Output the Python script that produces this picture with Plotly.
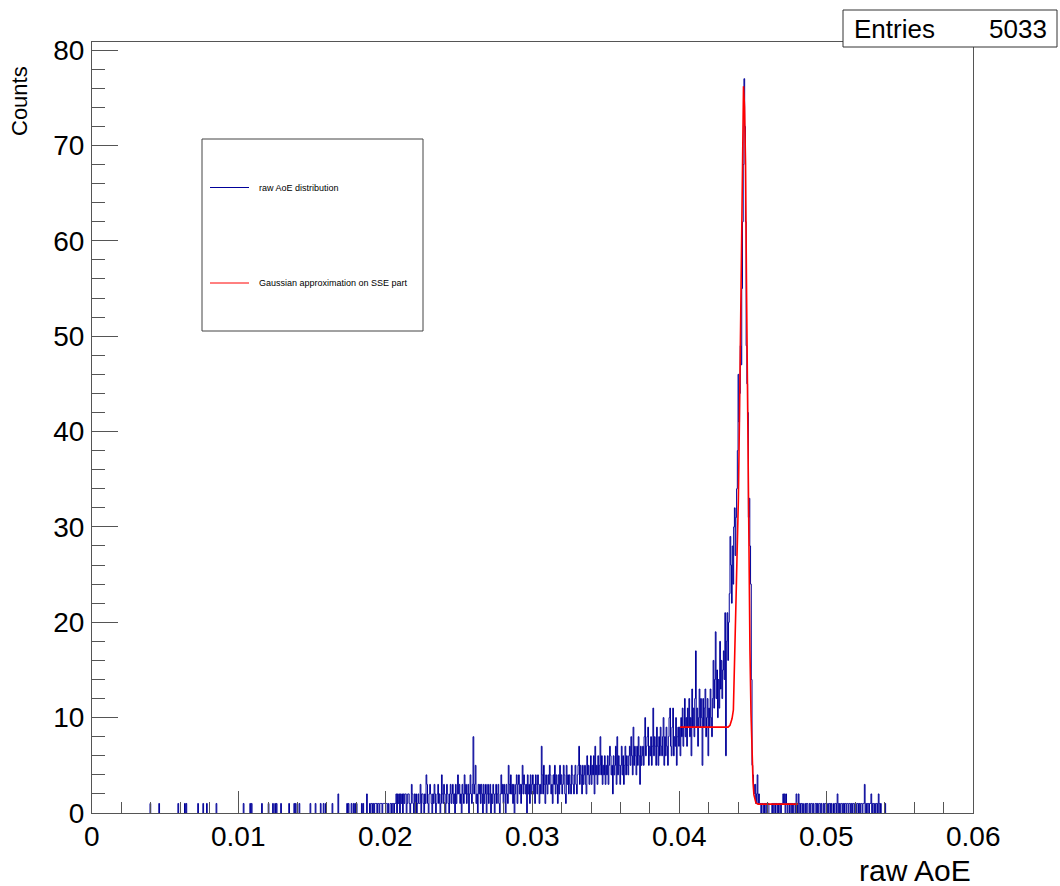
import numpy as np
import plotly.graph_objects as go

# ---------------- data ----------------
bin_width = 0.00005
n_bins = 1200  # 0 .. 0.06

# isolated entries in the low-AoE region (value, count)
sparse_x = [0.00397, 0.00456, 0.00590, 0.00633, 0.00642, 0.00724, 0.00758, 0.00785,
            0.00849, 0.01030, 0.01076, 0.01088, 0.01156, 0.01201, 0.01235, 0.01246,
            0.01258, 0.01287, 0.01340, 0.01376, 0.01389, 0.01412, 0.01489, 0.01521,
            0.01557, 0.01575, 0.01594, 0.01639, 0.01677, 0.01735, 0.01746, 0.01769,
            0.01780, 0.01791]
sparse_n = [1, 1, 1, 1, 1, 1, 1, 1,
            1, 1, 1, 1, 1, 1, 1, 1,
            1, 1, 1, 1, 1, 1, 1, 1,
            1, 1, 1, 1, 2, 1, 1, 1,
            1, 1]

# bin contents, consecutive bins starting at 0.0180
counts_180_200 = [1,0,0,0,0,0,0,1,0,1, 0,0,0,0,2,0,0,0,1,0,
                  1,1,0,1,0,1,1,1,0,1, 1,0,1,1,1,0,1,1,1,1]
counts_200_250 = [1,1,0,1,0,0,1,1,0,1, 1,0,1,1,2,0,2,1,2,0,
                  2,1,2,0,2,1,2,2,0,1, 2,2,1,0,1,3,2,1,0,2,
                  1,2,0,1,2,1,1,3,0,2, 2,1,0,2,1,4,3,1,0,2,
                  3,2,1,0,2,1,3,2,0,1, 2,3,1,2,0,1,4,2,1,3,
                  2,0,1,3,2,1,0,2,3,1, 2,3,1,2,0,3,1,2,4,2]
counts_250_300 = [3,1,2,0,3,2,1,4,2,3, 1,2,3,0,2,4,2,1,3,8,
                  2,3,5,1,2,0,3,2,3,1, 3,2,0,3,1,2,3,0,2,3,
                  1,2,3,0,2,1,3,2,0,2, 3,1,2,3,1,0,2,4,2,3,
                  1,3,2,0,3,2,1,5,3,2, 4,2,3,1,3,0,2,3,4,1,
                  3,4,2,3,1,3,5,2,4,3, 2,3,0,4,2,3,1,4,2,3]
counts_300_350 = [4,2,3,1,4,3,2,4,3,1, 3,2,7,4,2,5,3,1,4,3,
                  2,4,3,5,4,2,3,1,4,3, 5,2,4,3,1,4,2,5,3,4,
                  2,3,5,4,2,1,5,3,4,2, 4,3,2,5,4,3,2,4,5,3,
                  2,4,5,7,3,5,4,2,5,3, 4,5,3,2,6,4,5,3,4,6,
                  3,5,4,6,2,7,4,5,3,6, 4,5,8,4,6,3,5,4,6,3]
counts_350_400 = [5,4,6,3,5,7,6,4,5,2, 6,4,5,7,3,8,4,6,5,3,
                  5,7,4,6,3,5,7,4,6,5, 4,6,7,5,8,6,4,9,5,7,
                  6,4,7,5,8,6,3,7,5,6, 7,5,8,10,6,7,8,9,5,7,
                  6,8,5,7,11,6,8,7,5,9, 7,5,8,6,9,7,6,8,10,5,
                  8,6,9,7,5,8,10,11,7,6, 9,11,6,8,7,10,5,8,9,7]
counts_400_435 = [9,6,10,8,11,7,9,12,8,10, 7,11,9,12,8,10,6,13,9,11,
                  8,12,17,9,11,7,10,13,9,12, 10,5,12,9,11,13,8,10,12,6,
                  11,9,13,10,8,12,16,11,14,19, 12,15,10,14,11,18,13,16,12,15,
                  17,14,21,6,18,21,16,20,23,29]
counts_435_455 = [26,22,28,24,30,32,27,31,34,38, 46,41,44,49,47,55,62,68,77,72,
                  62,49,45,42,31,33,28,24,14,5, 4,3,2,3,1,2,4,1,2,1]
counts_455_545 = [1,0,1,1,0,1,0,1,1,0, 1,1,0,0,0,0,1,0,1,1,
                  0,1,1,0,1,0,1,1,0,1, 1,2,1,2,0,2,1,0,1,1,
                  0,1,1,0,1,0,1,1,0,2, 1,0,2,1,0,1,1,0,1,0,
                  0,1,0,1,1,0,0,1,0,1, 1,0,1,0,0,1,1,0,1,0,
                  1,1,0,1,0,0,1,0,1,1, 0,0,1,0,1,1,0,1,0,0,
                  1,0,1,1,0,2,1,0,1,0, 1,1,0,1,0,1,1,0,1,1,
                  0,1,1,0,1,0,1,1,0,1, 1,0,1,1,0,1,0,1,1,0,
                  1,1,3,0,1,0,1,1,0,1, 1,2,0,1,1,0,1,0,1,1,
                  0,2,1,0,1,0,0,0,0,0, 1,0,0,0,0,0,0,0,0,0]
dense_start = 0.0180

# fitted function (Gaussian with step on the SSE peak)
fit_x = [0.04005, 0.04332, 0.04345, 0.04359, 0.04368, 0.04374, 0.04381, 0.04386,
         0.04393, 0.04402, 0.04410, 0.04417, 0.04423, 0.04430, 0.04437, 0.04444,
         0.04451, 0.04457, 0.04464, 0.04470, 0.04474, 0.04481, 0.04488, 0.04495,
         0.04502, 0.04508, 0.04515, 0.04522, 0.04536, 0.04808]
fit_y = [9.0, 9.0, 9.2, 9.9, 10.8, 14.0, 18.9, 22.3,
         27.0, 32.8, 42.0, 52.0, 62.0, 71.0, 76.2, 74.0,
         68.0, 56.0, 42.0, 32.8, 25.0, 17.0, 10.5, 5.9,
         3.2, 1.9, 1.3, 1.05, 0.93, 0.93]

entries = 5033
x_ticks = [0, 0.01, 0.02, 0.03, 0.04, 0.05, 0.06]
x_tick_text = ["0", "0.01", "0.02", "0.03", "0.04", "0.05", "0.06"]
y_ticks = [0, 10, 20, 30, 40, 50, 60, 70, 80]

# ---------------- histogram ----------------
counts = np.zeros(n_bins)
for v, n in zip(sparse_x, sparse_n):
    counts[int(v / bin_width)] += n
dense = (counts_180_200 + counts_200_250 + counts_250_300 + counts_300_350
         + counts_350_400 + counts_400_435 + counts_435_455 + counts_455_545)
i0 = int(round(dense_start / bin_width))
counts[i0:i0 + len(dense)] = dense
edges = np.arange(n_bins + 1) * bin_width
y_max = counts.max() * 1.05

# outline path of the histogram; runs of empty bins are left undrawn so the
# bottom of the frame stays visible
path_x, path_y = [], []
i = 0
while i < n_bins:
    if counts[i] == 0:
        i += 1
        continue
    j = i
    while j < n_bins and counts[j] > 0:
        j += 1
    path_x += [edges[i]] + list(edges[i:j]) + [edges[j], edges[j], None]
    path_y += [0] + list(counts[i:j]) + [counts[j - 1], 0, None]
    i = j

HIST_COLOR = "#000099"
FIT_COLOR = "#ff0000"
FRAME = "#555555"
FONT = "Liberation Sans, Arial, Helvetica, sans-serif"

fig = go.Figure()
fig.add_trace(go.Scatter(x=path_x, y=path_y, mode="lines", line_shape="hv",
                         connectgaps=False,
                         line=dict(color=HIST_COLOR, width=1),
                         name="raw AoE distribution", showlegend=False))
fig.add_trace(go.Scatter(x=fit_x, y=fit_y, mode="lines",
                         line=dict(color=FIT_COLOR, width=1.6),
                         name="Gaussian approximation on SSE part", showlegend=False))

# plot frame geometry (pixels)
L, R, T, B = 92, 973, 42, 813
W, H = 1060, 886


def px(p):
    return (p - L) / (R - L)


def py(p):
    return (B - p) / (B - T)


fig.update_layout(
    width=W, height=H,
    margin=dict(l=L, r=W - R, t=T, b=H - B, pad=0),
    paper_bgcolor="white", plot_bgcolor="white",
    font=dict(family=FONT, color="black"),
    showlegend=False,
    xaxis=dict(range=[0, 0.06], showgrid=False, zeroline=False,
               showline=True, linecolor=FRAME, linewidth=1, mirror=True,
               ticks="inside", ticklen=22, tickcolor=FRAME, tickwidth=1,
               tickvals=x_ticks, showticklabels=False,
               minor=dict(dtick=0.002, ticks="inside", ticklen=11, tickcolor=FRAME)),
    yaxis=dict(range=[0, y_max], showgrid=False, zeroline=False,
               showline=True, linecolor=FRAME, linewidth=1, mirror=True,
               ticks="inside", ticklen=26, tickcolor=FRAME, tickwidth=1,
               tickvals=y_ticks,
               tickfont=dict(size=28, family=FONT), ticklabelstandoff=1,
               minor=dict(dtick=2, ticks="inside", ticklen=13, tickcolor=FRAME)),
)

shapes = []
annotations = []

# x tick labels
for v, t in zip(x_ticks, x_tick_text):
    annotations.append(dict(xref="x", yref="paper", x=v, y=py(837),
                            xanchor="center", yanchor="middle", showarrow=False,
                            text=t, font=dict(size=28, family=FONT)))

# stats box
shapes.append(dict(type="rect", xref="paper", yref="paper",
                   x0=px(843), x1=px(1057), y0=py(47), y1=py(10),
                   line=dict(color="#333333", width=1), fillcolor="white", layer="above"))
annotations.append(dict(xref="paper", yref="paper", x=px(852), y=py(29),
                        xanchor="left", yanchor="middle", showarrow=False,
                        text="Entries", font=dict(size=26, family=FONT)))
annotations.append(dict(xref="paper", yref="paper", x=px(1049), y=py(29),
                        xanchor="right", yanchor="middle", showarrow=False,
                        text=str(entries), font=dict(size=26, family=FONT)))

# legend box
shapes.append(dict(type="rect", xref="paper", yref="paper",
                   x0=px(202), x1=px(423), y0=py(331), y1=py(139),
                   line=dict(color="#444444", width=1), fillcolor="white", layer="above"))
for yl, col, label in [(187.5, HIST_COLOR, "raw AoE distribution"),
                       (283, FIT_COLOR, "Gaussian approximation on SSE part")]:
    shapes.append(dict(type="line", xref="paper", yref="paper",
                       x0=px(210), x1=px(249), y0=py(yl), y1=py(yl),
                       line=dict(color=col, width=1), layer="above"))
    annotations.append(dict(xref="paper", yref="paper", x=px(257), y=py(yl),
                            xanchor="left", yanchor="middle", showarrow=False,
                            text=label, font=dict(size=9, family=FONT)))

# axis titles
annotations.append(dict(xref="paper", yref="paper", x=px(973), y=py(870),
                        xanchor="right", yanchor="middle", showarrow=False,
                        text="raw AoE", font=dict(size=30, family=FONT)))
annotations.append(dict(xref="paper", yref="paper", x=px(20), y=py(101),
                        xanchor="center", yanchor="middle", showarrow=False,
                        textangle=-90, text="Counts", font=dict(size=22, family=FONT)))

fig.update_layout(shapes=shapes, annotations=annotations)
fig.write_html("out.html")
